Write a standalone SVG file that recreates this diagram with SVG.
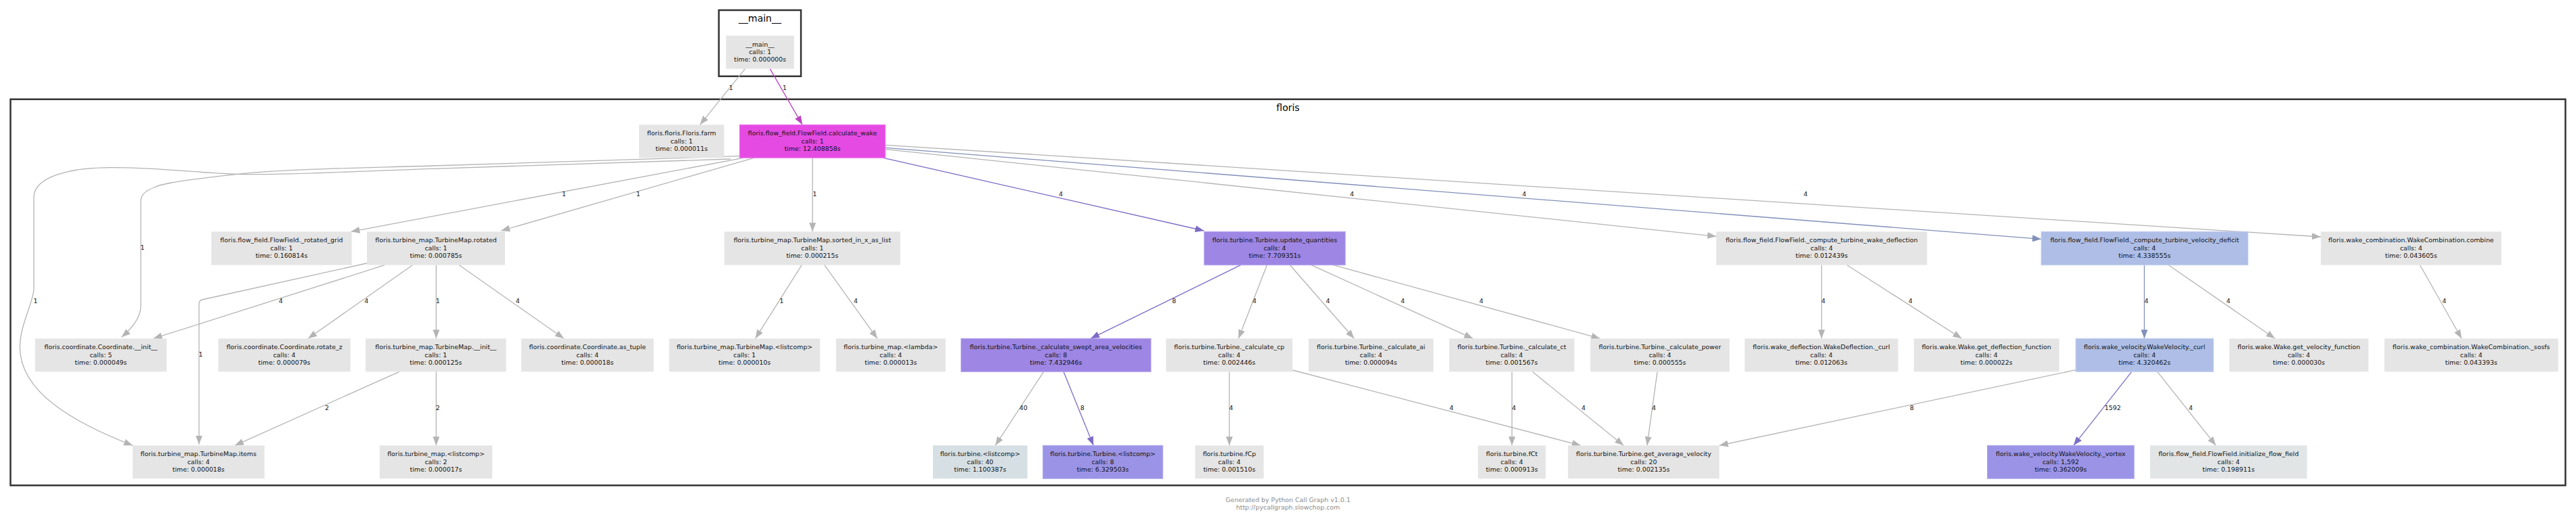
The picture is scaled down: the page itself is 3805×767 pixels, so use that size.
<svg xmlns="http://www.w3.org/2000/svg" width="3805" height="767" viewBox="0 0 3805 767">
<style>
.bg{fill:#ffffff}
.cl{fill:none;stroke:#333333;stroke-width:2.5}
.ct{font-family:"DejaVu Sans",Verdana,sans-serif;font-size:14px;fill:#000;text-anchor:middle}
.n rect{fill:#e5e5e5}
.n text,.lb text{font-family:"DejaVu Sans",Verdana,sans-serif;font-size:9.4px;fill:#111;text-anchor:middle}
.mag rect{fill:#e54ae3;stroke:#f07ff0;stroke-width:1}
.pu rect{fill:#9d86e4;stroke:#b3a3ec;stroke-width:1}
.pu2 rect{fill:#9b94e6;stroke:#b0aaee;stroke-width:1}
.bl rect{fill:#aebee6;stroke:#c2cfef;stroke-width:1}
.lbg rect{fill:#d6e0e4}
.lg2 rect{fill:#e2e5e5}
.e path{fill:none;stroke-width:1.3}
.g{stroke:#b4b4b4;marker-end:url(#mg)}
.p{stroke:#7e6bc6;marker-end:url(#mp)}
.p2{stroke:#7b70c8;marker-end:url(#mp2)}
.b{stroke:#8190b9;marker-end:url(#mb)}
.m{stroke:#b944c0;marker-end:url(#mm)}
.ft{font-family:"DejaVu Sans",Verdana,sans-serif;font-size:9.4px;fill:#8c8c8c;text-anchor:middle}
</style>
<defs>
<marker id="mg" viewBox="0 0 13 10" refX="13" refY="5" markerWidth="13" markerHeight="10" orient="auto" markerUnits="userSpaceOnUse"><path d="M0,0 L13,5 L0,10 z" fill="#b4b4b4"/></marker>
<marker id="mp" viewBox="0 0 13 10" refX="13" refY="5" markerWidth="13" markerHeight="10" orient="auto" markerUnits="userSpaceOnUse"><path d="M0,0 L13,5 L0,10 z" fill="#7e6bc6"/></marker>
<marker id="mp2" viewBox="0 0 13 10" refX="13" refY="5" markerWidth="13" markerHeight="10" orient="auto" markerUnits="userSpaceOnUse"><path d="M0,0 L13,5 L0,10 z" fill="#7b70c8"/></marker>
<marker id="mb" viewBox="0 0 13 10" refX="13" refY="5" markerWidth="13" markerHeight="10" orient="auto" markerUnits="userSpaceOnUse"><path d="M0,0 L13,5 L0,10 z" fill="#8190b9"/></marker>
<marker id="mm" viewBox="0 0 13 10" refX="13" refY="5" markerWidth="13" markerHeight="10" orient="auto" markerUnits="userSpaceOnUse"><path d="M0,0 L13,5 L0,10 z" fill="#b944c0"/></marker>
</defs>
<rect class="bg" x="0" y="0" width="3805" height="767"/>
<g id="cluster_main">
<rect class="cl" x="1061.8" y="15" width="121.3" height="97.7"/>
<text class="ct" x="1122.5" y="32.3">__main__</text>
</g>
<g id="cluster_floris">
<rect class="cl" x="15.5" y="146.7" width="3773.9" height="570.6"/>
<text class="ct" x="1902.5" y="164.3">floris</text>
</g>
<g id="connectors" class="e">
<path class="g" d="M1100.6,101.7 L1034,184.3"/>
<path class="m" d="M1137.3,101.7 L1185.1,184.3"/>
<path class="g" d="M1098,233.3 L518.4,342.3"/>
<path class="g" d="M1113.7,233.3 L740.2,341"/>
<path class="g" d="M1200.2,233.3 L1200.2,342.3"/>
<path class="p" d="M1304.9,233.3 L1778.4,341"/>
<path class="g" d="M1307.8,220.7 L2535,349.3"/>
<path class="b" d="M1307.8,218.3 L3015,353.3"/>
<path class="g" d="M1307.8,214.3 L3428,350"/>
<path class="g" d="M1092.4,230.7 L640,245 C500,249 420,250 351,257.3 C290,264 240,270 228,277 C214,282 208,288 208,297 L208,452 C208,470 195,485 179.6,498.3"/>
<path class="g" d="M1079,235 L640,249.3 C500,254 420,259 351,257.3 C280,255 230,247 163,247.7 C100,248 50,262 50,292 L50,427 C50,445 29.4,480 29.4,513 C29.4,580 110,625 196,658.3"/>
<path class="g" d="M568.2,391.7 L226.5,500.3"/>
<path class="g" d="M609.4,391.7 L455.1,500.3"/>
<path class="g" d="M542,389 L298,443 Q294,444 294,450 L294,656.7"/>
<path class="g" d="M644.3,391.7 L644.3,500.3"/>
<path class="g" d="M678.2,391.7 L832.9,500.3"/>
<path class="g" d="M589.8,549.3 L346.9,658.3"/>
<path class="g" d="M644.3,549.3 L644.3,658.3"/>
<path class="g" d="M1184.3,391.7 L1115.7,500.3"/>
<path class="g" d="M1217.8,391.7 L1295.9,500.3"/>
<path class="p" d="M1832.7,391.7 L1611,500.3"/>
<path class="g" d="M1871.4,391.7 L1829.4,500.3"/>
<path class="g" d="M1905.5,391.7 L2000.2,500.3"/>
<path class="g" d="M1936.9,391.7 L2175.7,500.3"/>
<path class="g" d="M1969.6,391.7 L2363.5,500.3"/>
<path class="g" d="M1541.6,549.3 L1470.2,658.3"/>
<path class="p" d="M1571,549.3 L1615.1,658.3"/>
<path class="g" d="M1815.9,549.3 L1815.9,658.3"/>
<path class="g" d="M1909.2,547 L2334.9,658.3"/>
<path class="g" d="M2233.3,549.3 L2233.3,658.3"/>
<path class="g" d="M2263.5,549.3 L2398.2,658.3"/>
<path class="g" d="M2448,549.3 L2432.9,658.3"/>
<path class="g" d="M2690.6,391.7 L2690.6,500.3"/>
<path class="g" d="M2728.2,391.7 L2897.6,500.3"/>
<path class="b" d="M3167.4,391.7 L3167.4,500.3"/>
<path class="g" d="M3203.2,391.7 L3360.3,500.3"/>
<path class="g" d="M3574.6,391.7 L3636,500.3"/>
<path class="g" d="M3066.1,546.7 L2539.6,658.3"/>
<path class="p2" d="M3148.6,549.3 L3062.9,658.3"/>
<path class="g" d="M3186.7,549.3 L3273.1,658.3"/>
<g class="lb">
<text x="1079.8" y="133.4">1</text>
<text x="1159" y="133.4">1</text>
<text x="832.9" y="290">1</text>
<text x="942.7" y="290">1</text>
<text x="1203.5" y="290">1</text>
<text x="1566.9" y="290">4</text>
<text x="1997" y="290">4</text>
<text x="2251.6" y="290">4</text>
<text x="2667" y="290">4</text>
<text x="210.6" y="369.4">1</text>
<text x="52.4" y="448.4">1</text>
<text x="414.7" y="448.4">4</text>
<text x="541.2" y="448.4">4</text>
<text x="296.4" y="527.4">1</text>
<text x="646.8" y="448.4">1</text>
<text x="764.7" y="448.4">4</text>
<text x="482.9" y="606.1">2</text>
<text x="646.8" y="606.1">2</text>
<text x="1154.5" y="448.4">1</text>
<text x="1263.9" y="448.4">4</text>
<text x="1734.3" y="448.4">8</text>
<text x="1853" y="448.4">4</text>
<text x="1961.4" y="448.4">4</text>
<text x="2072" y="448.4">4</text>
<text x="2188" y="448.4">4</text>
<text x="1511.8" y="606.1">40</text>
<text x="1598.8" y="606.1">8</text>
<text x="1818.6" y="606.1">4</text>
<text x="2143.9" y="606.1">4</text>
<text x="2236.3" y="606.1">4</text>
<text x="2339" y="606.1">4</text>
<text x="2443" y="606.1">4</text>
<text x="2693.3" y="448.4">4</text>
<text x="2822" y="448.4">4</text>
<text x="3170.5" y="448.4">4</text>
<text x="3291.6" y="448.4">4</text>
<text x="3610.4" y="448.4">4</text>
<text x="2824.1" y="606.1">8</text>
<text x="3120.8" y="606.1">1592</text>
<text x="3236.1" y="606.1">4</text>
</g>
</g>
<g id="n_main" class="n"><rect x="1072.4" y="52.7" width="100.5" height="49"/><text x="1122.7" y="68.6">__main__</text><text x="1122.7" y="79.9">calls: 1</text><text x="1122.7" y="91.4">time: 0.000000s</text></g>
<g id="n_farm" class="n"><rect x="943.9" y="184.3" width="125.7" height="49"/><text x="1006.8" y="200.2">floris.floris.Floris.farm</text><text x="1006.8" y="211.5">calls: 1</text><text x="1006.8" y="223">time: 0.000011s</text></g>
<g id="n_calculate_wake" class="n mag"><rect x="1092.4" y="184.3" width="215.4" height="49"/><text x="1200.1" y="200.2">floris.flow_field.FlowField.calculate_wake</text><text x="1200.1" y="211.5">calls: 1</text><text x="1200.1" y="223">time: 12.408858s</text></g>
<g id="n_rotated_grid" class="n"><rect x="312.2" y="342.3" width="207.4" height="49.4"/><text x="415.9" y="358.2">floris.flow_field.FlowField._rotated_grid</text><text x="415.9" y="369.5">calls: 1</text><text x="415.9" y="381">time: 0.160814s</text></g>
<g id="n_rotated" class="n"><rect x="542" y="342.3" width="203.9" height="49.4"/><text x="644" y="358.2">floris.turbine_map.TurbineMap.rotated</text><text x="644" y="369.5">calls: 1</text><text x="644" y="381">time: 0.000785s</text></g>
<g id="n_sorted" class="n"><rect x="1070" y="342.3" width="259.8" height="49.4"/><text x="1199.9" y="358.2">floris.turbine_map.TurbineMap.sorted_in_x_as_list</text><text x="1199.9" y="369.5">calls: 1</text><text x="1199.9" y="381">time: 0.000215s</text></g>
<g id="n_update" class="n pu"><rect x="1778.8" y="342.3" width="208.3" height="49.4"/><text x="1883" y="358.2">floris.turbine.Turbine.update_quantities</text><text x="1883" y="369.5">calls: 4</text><text x="1883" y="381">time: 7.709351s</text></g>
<g id="n_wake_deflection" class="n"><rect x="2535.1" y="342.3" width="311.4" height="49.4"/><text x="2690.8" y="358.2">floris.flow_field.FlowField._compute_turbine_wake_deflection</text><text x="2690.8" y="369.5">calls: 4</text><text x="2690.8" y="381">time: 0.012439s</text></g>
<g id="n_velocity_deficit" class="n bl"><rect x="3015.1" y="342.3" width="305.3" height="49.4"/><text x="3167.8" y="358.2">floris.flow_field.FlowField._compute_turbine_velocity_deficit</text><text x="3167.8" y="369.5">calls: 4</text><text x="3167.8" y="381">time: 4.338555s</text></g>
<g id="n_combine" class="n"><rect x="3428.2" y="342.3" width="266.6" height="49.4"/><text x="3561.5" y="358.2">floris.wake_combination.WakeCombination.combine</text><text x="3561.5" y="369.5">calls: 4</text><text x="3561.5" y="381">time: 0.043605s</text></g>
<g id="n_coord_init" class="n"><rect x="51.8" y="500.3" width="194.3" height="49"/><text x="149" y="516.2">floris.coordinate.Coordinate.__init__</text><text x="149" y="527.5">calls: 5</text><text x="149" y="539">time: 0.000049s</text></g>
<g id="n_rotate_z" class="n"><rect x="322.4" y="500.3" width="195.2" height="49"/><text x="420" y="516.2">floris.coordinate.Coordinate.rotate_z</text><text x="420" y="527.5">calls: 4</text><text x="420" y="539">time: 0.000079s</text></g>
<g id="n_tm_init" class="n"><rect x="540" y="500.3" width="207.6" height="49"/><text x="643.8" y="516.2">floris.turbine_map.TurbineMap.__init__</text><text x="643.8" y="527.5">calls: 1</text><text x="643.8" y="539">time: 0.000125s</text></g>
<g id="n_as_tuple" class="n"><rect x="770" y="500.3" width="195.5" height="49"/><text x="867.8" y="516.2">floris.coordinate.Coordinate.as_tuple</text><text x="867.8" y="527.5">calls: 4</text><text x="867.8" y="539">time: 0.000018s</text></g>
<g id="n_tm_listcomp" class="n"><rect x="988.4" y="500.3" width="222.8" height="49"/><text x="1099.8" y="516.2">floris.turbine_map.TurbineMap.&lt;listcomp&gt;</text><text x="1099.8" y="527.5">calls: 1</text><text x="1099.8" y="539">time: 0.000010s</text></g>
<g id="n_lambda" class="n"><rect x="1234.9" y="500.3" width="161.8" height="49"/><text x="1315.8" y="516.2">floris.turbine_map.&lt;lambda&gt;</text><text x="1315.8" y="527.5">calls: 4</text><text x="1315.8" y="539">time: 0.000013s</text></g>
<g id="n_swept" class="n pu"><rect x="1419.6" y="500.3" width="280.4" height="49"/><text x="1559.8" y="516.2">floris.turbine.Turbine._calculate_swept_area_velocities</text><text x="1559.8" y="527.5">calls: 8</text><text x="1559.8" y="539">time: 7.432946s</text></g>
<g id="n_cp" class="n"><rect x="1722.4" y="500.3" width="186.8" height="49"/><text x="1815.8" y="516.2">floris.turbine.Turbine._calculate_cp</text><text x="1815.8" y="527.5">calls: 4</text><text x="1815.8" y="539">time: 0.002446s</text></g>
<g id="n_ai" class="n"><rect x="1932.9" y="500.3" width="184.4" height="49"/><text x="2025.1" y="516.2">floris.turbine.Turbine._calculate_ai</text><text x="2025.1" y="527.5">calls: 4</text><text x="2025.1" y="539">time: 0.000094s</text></g>
<g id="n_ct" class="n"><rect x="2140.6" y="500.3" width="184.9" height="49"/><text x="2233" y="516.2">floris.turbine.Turbine._calculate_ct</text><text x="2233" y="527.5">calls: 4</text><text x="2233" y="539">time: 0.001567s</text></g>
<g id="n_power" class="n"><rect x="2349.2" y="500.3" width="205.5" height="49"/><text x="2452" y="516.2">floris.turbine.Turbine._calculate_power</text><text x="2452" y="527.5">calls: 4</text><text x="2452" y="539">time: 0.000555s</text></g>
<g id="n_wd_curl" class="n"><rect x="2577.1" y="500.3" width="226.6" height="49"/><text x="2690.4" y="516.2">floris.wake_deflection.WakeDeflection._curl</text><text x="2690.4" y="527.5">calls: 4</text><text x="2690.4" y="539">time: 0.012063s</text></g>
<g id="n_get_deflection" class="n"><rect x="2826.9" y="500.3" width="214.7" height="49"/><text x="2934.2" y="516.2">floris.wake.Wake.get_deflection_function</text><text x="2934.2" y="527.5">calls: 4</text><text x="2934.2" y="539">time: 0.000022s</text></g>
<g id="n_wv_curl" class="n bl"><rect x="3066.1" y="500.3" width="203.3" height="49"/><text x="3167.7" y="516.2">floris.wake_velocity.WakeVelocity._curl</text><text x="3167.7" y="527.5">calls: 4</text><text x="3167.7" y="539">time: 4.320462s</text></g>
<g id="n_get_velocity" class="n"><rect x="3292.9" y="500.3" width="205.6" height="49"/><text x="3395.7" y="516.2">floris.wake.Wake.get_velocity_function</text><text x="3395.7" y="527.5">calls: 4</text><text x="3395.7" y="539">time: 0.000030s</text></g>
<g id="n_sosfs" class="n"><rect x="3522" y="500.3" width="256.7" height="49"/><text x="3650.3" y="516.2">floris.wake_combination.WakeCombination._sosfs</text><text x="3650.3" y="527.5">calls: 4</text><text x="3650.3" y="539">time: 0.043393s</text></g>
<g id="n_items" class="n"><rect x="195.9" y="658.3" width="194.7" height="49"/><text x="293.2" y="674.2">floris.turbine_map.TurbineMap.items</text><text x="293.2" y="685.5">calls: 4</text><text x="293.2" y="697">time: 0.000018s</text></g>
<g id="n_tmap_listcomp" class="n"><rect x="560.8" y="658.3" width="166.3" height="49"/><text x="644" y="674.2">floris.turbine_map.&lt;listcomp&gt;</text><text x="644" y="685.5">calls: 2</text><text x="644" y="697">time: 0.000017s</text></g>
<g id="n_turbine_listcomp" class="n lbg"><rect x="1378" y="658.3" width="139.6" height="49"/><text x="1447.8" y="674.2">floris.turbine.&lt;listcomp&gt;</text><text x="1447.8" y="685.5">calls: 40</text><text x="1447.8" y="697">time: 1.100387s</text></g>
<g id="n_turbine_t_listcomp" class="n pu2"><rect x="1540.4" y="658.3" width="177.2" height="49"/><text x="1629" y="674.2">floris.turbine.Turbine.&lt;listcomp&gt;</text><text x="1629" y="685.5">calls: 8</text><text x="1629" y="697">time: 6.329503s</text></g>
<g id="n_fcp" class="n"><rect x="1765.3" y="658.3" width="101.2" height="49"/><text x="1815.9" y="674.2">floris.turbine.fCp</text><text x="1815.9" y="685.5">calls: 4</text><text x="1815.9" y="697">time: 0.001510s</text></g>
<g id="n_fct" class="n"><rect x="2183.1" y="658.3" width="100" height="49"/><text x="2233.1" y="674.2">floris.turbine.fCt</text><text x="2233.1" y="685.5">calls: 4</text><text x="2233.1" y="697">time: 0.000913s</text></g>
<g id="n_avg_velocity" class="n"><rect x="2316.1" y="658.3" width="223.5" height="49"/><text x="2427.9" y="674.2">floris.turbine.Turbine.get_average_velocity</text><text x="2427.9" y="685.5">calls: 20</text><text x="2427.9" y="697">time: 0.002135s</text></g>
<g id="n_vortex" class="n pu2"><rect x="2935.5" y="658.3" width="216.7" height="49"/><text x="3043.9" y="674.2">floris.wake_velocity.WakeVelocity._vortex</text><text x="3043.9" y="685.5">calls: 1,592</text><text x="3043.9" y="697">time: 0.362009s</text></g>
<g id="n_init_flow_field" class="n lg2"><rect x="3176" y="658.3" width="231.6" height="49"/><text x="3291.8" y="674.2">floris.flow_field.FlowField.initialize_flow_field</text><text x="3291.8" y="685.5">calls: 4</text><text x="3291.8" y="697">time: 0.198911s</text></g>
<g id="footer">
<text class="ft" x="1902.5" y="742">Generated by Python Call Graph v1.0.1</text>
<text class="ft" x="1902.5" y="753">http://pycallgraph.slowchop.com</text>
</g>
</svg>
